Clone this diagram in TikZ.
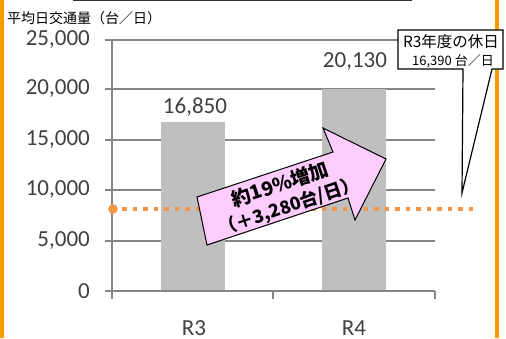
\documentclass[tikz,border=0pt]{standalone}
\usepackage{fontspec}
\setmainfont{Carlito}
\newfontfamily\jp{Noto Sans CJK JP}
\definecolor{gridgray}{HTML}{868686}
\definecolor{barfill}{HTML}{BFBFBF}
\definecolor{labgray}{HTML}{404040}
\definecolor{frameorange}{HTML}{FF9900}
\definecolor{dotorange}{HTML}{F79646}
\definecolor{pinkfill}{HTML}{FFCCFF}
\begin{document}
\begin{tikzpicture}[x=1pt,y=-1pt,
  gridline/.style={draw=gridgray,line width=2pt},
  ylab/.style={anchor=east,font=\fontsize{23}{23}\selectfont,text=labgray,inner sep=0pt},
  vallab/.style={font=\fontsize{23}{23}\selectfont,text=labgray,inner sep=0pt},
  bar/.style={fill=barfill},
  frame/.style={draw=frameorange,line width=4pt},
  refline/.style={draw=dotorange,line width=4.5pt,dash pattern=on 4.5pt off 6pt},
  bigarrow/.style={fill=pinkfill,draw=black,line width=1pt,line join=miter},
  arrowtext/.style={rotate=18.5,inner sep=0pt,font=\jp\bfseries},
  callout/.style={fill=white,draw=black,line width=1.2pt,line join=miter}
]
\useasboundingbox (0,0) rectangle (506,338);
% top line
\draw[line width=1.5pt,black!80] (73,0.5) -- (412,0.5);
% title
\node[anchor=west,inner sep=0pt,font=\jp\fontsize{14}{14}\selectfont] (title) at (7,18) {平均日交通量（台／日）};
% gridlines
\foreach \yy in {40,89,140,190,241} \draw[gridline] (105,\yy) -- (435,\yy);
% axes
\draw[gridline] (112,40) -- (112,299);
\draw[gridline] (105,291) -- (435,291);
\draw[gridline] (273,291) -- (273,299);
\draw[gridline] (435,291) -- (435,299);
% y labels
\node[ylab] (y25) at (90,40) {25,000};
\node[ylab] (y20) at (90,89) {20,000};
\node[ylab] (y15) at (90,140) {15,000};
\node[ylab] (y10) at (90,190) {10,000};
\node[ylab] (y5) at (90,241) {5,000};
\node[ylab] (y0) at (90,291) {0};
% bars
\fill[bar] (161,122) rectangle (225,290);
\fill[bar] (322,89) rectangle (386,290);
\node[vallab] (v3) at (195,107.5) {16,850};
\node[vallab] (v4) at (355,61.5) {20,130};
\node[vallab] (c3) at (194,328.5) {R3};
\node[vallab] (c4) at (354,328.5) {R4};
% reference dotted line
\fill[dotorange] (113,209) circle (4.8);
\draw[refline] (122,209) -- (475,209);
% pink arrow
\draw[bigarrow] (197,197) -- (333,152) -- (323,128) -- (386,159) -- (355,220) -- (348,198) -- (207,245) -- cycle;
\node[arrowtext,font=\jp\bfseries\fontsize{19.5}{19.5}\selectfont] (inc1) at (280,184) {約19\%増加};
\node[arrowtext,font=\jp\bfseries\fontsize{18}{18}\selectfont] (inc2) at (289,207) {（＋3,280台/日）};
% frame lines
\draw[frame] (2,0) -- (2,338);
\draw[frame] (497,0) -- (497,338);
% callout
\draw[callout] (398,30) -- (503,30) -- (503,69) -- (492,69) -- (462,193) -- (463,69) -- (398,69) -- cycle;
\node[inner sep=0pt,font=\jp\fontsize{15.5}{15.5}\selectfont] (hol1) at (451,42) {R3年度の休日};
\node[inner sep=0pt,font=\jp\fontsize{13}{13}\selectfont] (hol2) at (453,61) {16,390 台／日};
\end{tikzpicture}
\end{document}
